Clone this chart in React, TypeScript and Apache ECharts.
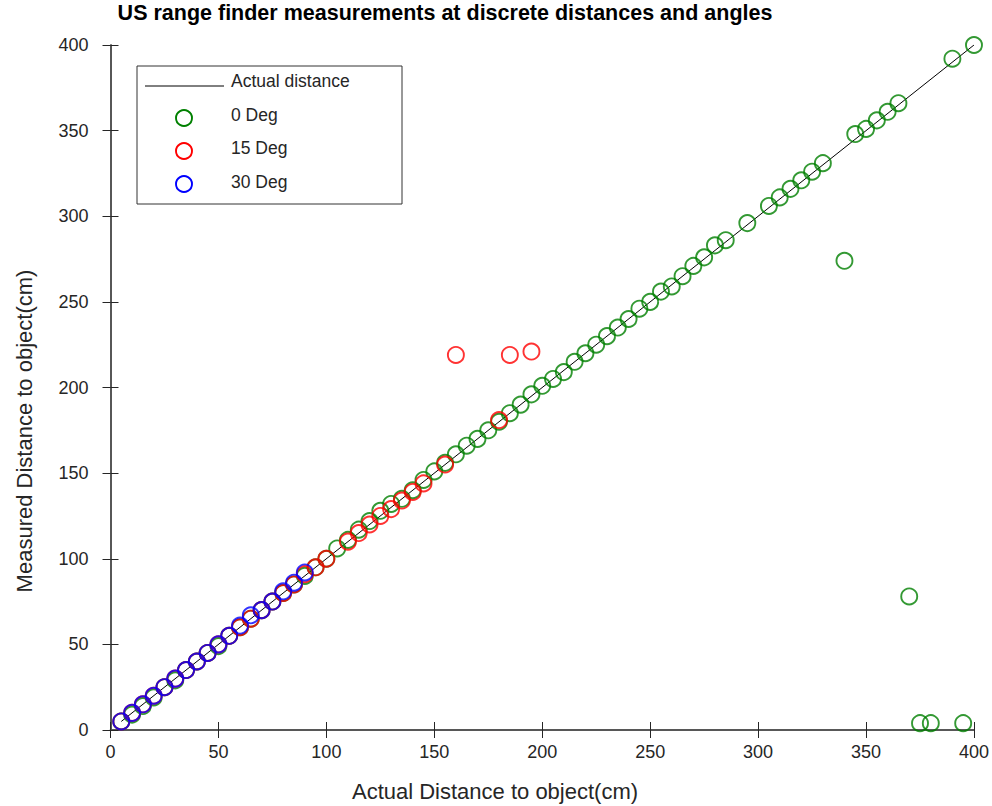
import React, { useEffect, useRef } from "react";
import * as echarts from "echarts";

const titleText = "US range finder measurements at discrete distances and angles";
const xAxisTitle = "Actual Distance to object(cm)";
const yAxisTitle = "Measured Distance to object(cm)";
const legendLabels = ["Actual distance", "0 Deg", "15 Deg", "30 Deg"];
const axisTicks = [0, 50, 100, 150, 200, 250, 300, 350, 400];

const actualX = [5, 400];
const actualY = [5, 400];

const deg0X = [5, 10, 15, 20, 25, 30, 35, 40, 45, 50, 55, 60, 65, 70, 75, 80, 85, 90, 95, 100,
  105, 110, 115, 120, 125, 130, 135, 140, 145, 150, 155, 160, 165, 170, 175, 180, 185, 190, 195, 200,
  205, 210, 215, 220, 225, 230, 235, 240, 245, 250, 255, 260, 265, 270, 275, 280, 285,
  295, 305, 310, 315, 320, 325, 330,
  340, 345, 350, 355, 360, 365, 370, 375, 380,
  390, 395, 400];
const deg0Y = [5, 9, 14, 19, 25, 29, 35, 40, 45, 49, 55, 60, 65, 70, 75, 80, 85, 90, 95, 100,
  106, 111, 117, 122, 128, 132, 135, 140, 146, 151, 156, 161, 166, 170, 175, 180, 185, 190, 196, 201,
  205, 209, 215, 220, 225, 230, 235, 240, 246, 250, 256, 259, 265, 271, 276, 283, 286,
  296, 306, 311, 316, 321, 326, 331,
  274, 348, 351, 356, 361, 366, 78, 4, 4,
  392, 4, 400];

const deg15X = [5, 10, 15, 20, 25, 30, 35, 40, 45, 50, 55, 60, 65, 70, 75, 80, 85, 90, 95, 100,
  110, 115, 120, 125, 130, 135, 140, 145, 155, 160, 180, 185, 195];
const deg15Y = [5, 10, 15, 20, 25, 30, 35, 40, 45, 50, 55, 60, 65, 70, 75, 80, 85, 91, 95, 100,
  110, 115, 120, 125, 129, 134, 139, 144, 155, 219, 181, 219, 221];

const deg30X = [5, 10, 15, 20, 25, 30, 35, 40, 45, 50, 55, 60, 65, 70, 75, 80, 85, 90];
const deg30Y = [5, 10, 15, 20, 25, 30, 35, 40, 45, 50, 55, 61, 67, 70, 75, 81, 86, 92];

const seriesColors = ["#000000", "#008000", "#ff0000", "#0000ff"];

const zip = (xs: number[], ys: number[]) => xs.map((x, i) => [x, ys[i]]);

export default function App() {
  const ref = useRef<HTMLDivElement>(null);
  useEffect(() => {
    if (!ref.current) return;
    const chart = echarts.init(ref.current, undefined, { renderer: "svg" });
    const font = "'Liberation Sans', Arial, sans-serif";
    const axisLine = { show: true, lineStyle: { color: "#4d4d4d", width: 1.5 } };
    const tick = { show: true, inside: true, length: 8, lineStyle: { color: "#262626", width: 1 } };
    const labelStyle = { color: "#262626", fontSize: 18, fontFamily: font };
    const scatterStyle = (c: string) => ({
      color: "rgba(0,0,0,0)",
      borderColor: c,
      borderWidth: 1.9,
    });
    const textEl = (text: string, x: number, y: number, size: number, extra: any = {}) => ({
      type: "text",
      x,
      y,
      silent: true,
      ...extra,
      style: {
        text,
        x: 0,
        y: 0,
        fill: extra.fill || "#262626",
        font: `${extra.weight || "normal"} ${size}px ${font}`,
        align: extra.align || "left",
        textAlign: extra.align || "left",
        verticalAlign: "middle",
        textVerticalAlign: "middle",
      },
    });
    const legendRows = [118, 151, 184];
    const legendTextY = [115, 148, 182];
    chart.setOption({
      animation: false,
      backgroundColor: "#ffffff",
      grid: { left: 110.5, top: 45, width: 866.5, height: 685, containLabel: false },
      xAxis: [
        {
          type: "value", min: axisTicks[0], max: axisTicks[axisTicks.length - 1], interval: 50,
          position: "bottom", axisLine, axisTick: tick, splitLine: { show: false },
          axisLabel: { ...labelStyle, margin: 13 },
        },
        {
          type: "value", min: axisTicks[0], max: axisTicks[axisTicks.length - 1], interval: 50,
          position: "top", axisLine, axisTick: tick, splitLine: { show: false },
          axisLabel: { show: false },
        },
      ],
      yAxis: [
        {
          type: "value", min: axisTicks[0], max: axisTicks[axisTicks.length - 1], interval: 50,
          position: "left", axisLine, axisTick: tick, splitLine: { show: false },
          axisLabel: { ...labelStyle, margin: 22, padding: [0, 0, 8, 0] },
        },
        {
          type: "value", min: axisTicks[0], max: axisTicks[axisTicks.length - 1], interval: 50,
          position: "right", axisLine, axisTick: tick, splitLine: { show: false },
          axisLabel: { show: false },
        },
      ],
      series: [
        {
          name: legendLabels[0], type: "line", data: zip(actualX, actualY),
          symbol: "none", lineStyle: { color: seriesColors[0], width: 1 }, z: 2,
        },
        {
          name: legendLabels[1], type: "scatter", data: zip(deg0X, deg0Y),
          symbol: "circle", symbolSize: 16, itemStyle: scatterStyle(seriesColors[1]), z: 3,
        },
        {
          name: legendLabels[2], type: "scatter", data: zip(deg15X, deg15Y),
          symbol: "circle", symbolSize: 16, itemStyle: scatterStyle(seriesColors[2]), z: 4,
        },
        {
          name: legendLabels[3], type: "scatter", data: zip(deg30X, deg30Y),
          symbol: "circle", symbolSize: 16, itemStyle: scatterStyle(seriesColors[3]), z: 5,
        },
      ],
      graphic: [
        textEl(titleText, 445, 13, 21.5, { align: "center", weight: "bold", fill: "#000000" }),
        textEl(xAxisTitle, 495, 791, 22, { align: "center" }),
        textEl(yAxisTitle, 24, 431, 22, { align: "center", rotation: Math.PI / 2 }),
        {
          type: "group",
          z: 100,
          children: [
            {
              type: "rect",
              shape: { x: 137, y: 66, width: 265, height: 138 },
              style: { fill: "#ffffff", stroke: "#333333", lineWidth: 1 },
            },
            {
              type: "line",
              shape: { x1: 145, y1: 86, x2: 224, y2: 86 },
              style: { stroke: seriesColors[0], lineWidth: 1 },
            },
            textEl(legendLabels[0], 231, 81, 17.5),
            ...legendRows.map((cy, i) => ({
              type: "circle",
              shape: { cx: 184, cy, r: 8 },
              style: { fill: "none", stroke: seriesColors[i + 1], lineWidth: 1.9 },
            })),
            ...legendTextY.map((y, i) => textEl(legendLabels[i + 1], 231, y, 17.5)),
          ],
        },
      ],
    });
    return () => chart.dispose();
  }, []);
  return (
    <div
      ref={ref}
      style={{ position: "fixed", left: 0, top: 0, width: 992, height: 806, background: "#fff" }}
    />
  );
}
